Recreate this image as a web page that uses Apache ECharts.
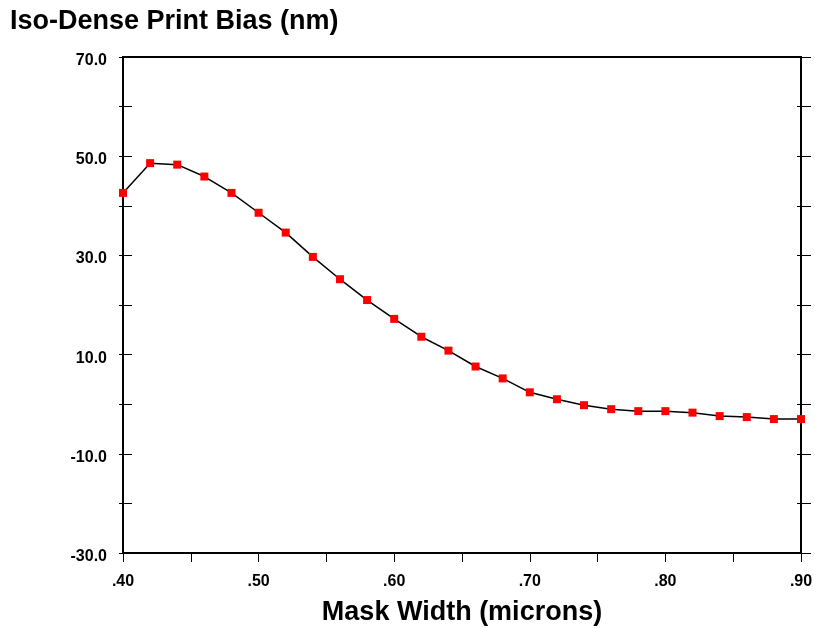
<!DOCTYPE html>
<html>
<head>
<meta charset="utf-8">
<script src="https://cdn.jsdelivr.net/npm/echarts@6/dist/echarts.min.js"></script>
<style>
  html, body { margin: 0; padding: 0; background: #fff; }
  #chart { width: 815px; height: 628px; }
</style>
</head>
<body>
<div id="chart"></div>
<script>
// Mask width (microns) and the measured iso-dense print bias (nm)
const maskWidth = [0.40, 0.42, 0.44, 0.46, 0.48, 0.50, 0.52, 0.54, 0.56, 0.58,
                   0.60, 0.62, 0.64, 0.66, 0.68, 0.70, 0.72, 0.74, 0.76, 0.78,
                   0.80, 0.82, 0.84, 0.86, 0.88, 0.90];
const printBias = [42.6, 48.6, 48.3, 45.9, 42.6, 38.6, 34.6, 29.7, 25.2, 21.0,
                   17.2, 13.6, 10.8, 7.6, 5.2, 2.4, 1.0, -0.2, -1.0, -1.4,
                   -1.4, -1.7, -2.4, -2.6, -3.0, -3.0];

const FONT = '"Liberation Sans", Arial, Helvetica, sans-serif';
const yMin = -30, yMax = 70, yStep = 10;
const xMin = 0.40, xMax = 0.90, xStep = 0.05;

const points = maskWidth.map((x, i) => [x, printBias[i]]);

// labels every 0.10 on x, every 20 on y; the other ticks stay unlabelled
const xLabel = v => {
  const h = Math.round(v * 100);
  return h % 10 === 0 ? '.' + h : '';
};
const yLabel = v => ((Math.round(v) - yMin) % 20 === 0 ? v.toFixed(1) : '');

const lineStyle = { color: '#000', width: 2 };
const noSplit = { show: false };

function yAxisDef(pos, tickInside, tickLen, withLabels) {
  return {
    type: 'value', position: pos, min: yMin, max: yMax, interval: yStep,
    axisLine: { show: true, onZero: false, lineStyle },
    axisTick: { show: true, inside: tickInside, length: tickLen, lineStyle: { color: '#000', width: 1 } },
    // labels sit a few pixels below their tick
    axisLabel: withLabels
      ? { show: true, formatter: yLabel, margin: 16, verticalAlign: 'top', lineHeight: 7, color: '#000',
          fontWeight: 'bold', fontSize: 16, fontFamily: FONT }
      : { show: false },
    splitLine: noSplit
  };
}

const chart = echarts.init(document.getElementById('chart'), null, { renderer: 'canvas' });
chart.setOption({
  animation: false,
  backgroundColor: '#fff',
  title: {
    text: 'Iso-Dense Print Bias (nm)',
    left: 10, top: 8, padding: 0,
    textStyle: { color: '#000', fontWeight: 'bold', fontSize: 27, fontFamily: FONT }
  },
  grid: { left: 123, right: 14, top: 57, bottom: 75, containLabel: false, outerBoundsMode: 'none' },
  xAxis: [
    {
      type: 'value', position: 'bottom', min: xMin, max: xMax, interval: xStep,
      name: 'Mask Width (microns)', nameLocation: 'middle', nameGap: 46,
      nameTextStyle: { color: '#000', fontWeight: 'bold', fontSize: 27, fontFamily: FONT },
      axisLine: { show: true, onZero: false, lineStyle },
      axisTick: { show: true, inside: false, length: 9, lineStyle: { color: '#000', width: 1 } },
      axisLabel: { formatter: xLabel, margin: 21, color: '#000', fontWeight: 'bold', fontSize: 16, fontFamily: FONT },
      splitLine: noSplit
    },
    {
      type: 'value', position: 'top', min: xMin, max: xMax,
      axisLine: { show: true, onZero: false, lineStyle },
      axisTick: { show: false }, axisLabel: { show: false }, splitLine: noSplit
    }
  ],
  yAxis: [
    yAxisDef('left', true, 9, true),
    yAxisDef('left', false, 4, false),
    yAxisDef('right', false, 10, false),
    yAxisDef('right', true, 4, false)
  ],
  series: [{
    type: 'line',
    data: points,
    xAxisIndex: 0, yAxisIndex: 0,
    clip: false,
    symbol: 'rect', symbolSize: 8,
    itemStyle: { color: '#ff0000' },
    lineStyle: { color: '#000', width: 1.5 },
    z: 3
  }]
});
</script>
</body>
</html>
